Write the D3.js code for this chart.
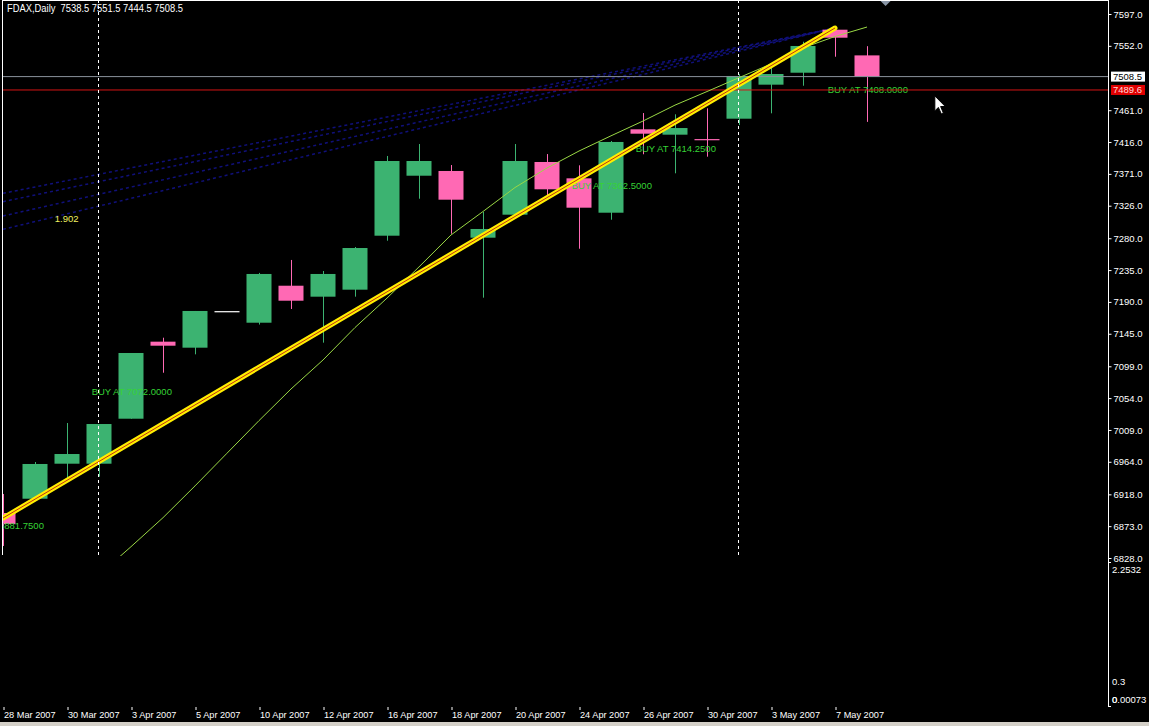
<!DOCTYPE html>
<html>
<head>
<meta charset="utf-8">
<script src="https://cdn.jsdelivr.net/npm/d3@7"></script>
<style>
html, body { margin: 0; padding: 0; background: #000; overflow: hidden; }
svg { display: block; }
text { font-family: "Liberation Sans", Arial, sans-serif; }
</style>
</head>
<body>
<div id="chart"></div>
<script>
// ---------- data ----------
const symbol = "FDAX,Daily";
const dates = ["2007-03-28","2007-03-29","2007-03-30","2007-04-02","2007-04-03","2007-04-04","2007-04-05",
  "2007-04-06","2007-04-10","2007-04-11","2007-04-12","2007-04-13","2007-04-16","2007-04-17","2007-04-18",
  "2007-04-19","2007-04-20","2007-04-23","2007-04-24","2007-04-25","2007-04-26","2007-04-27","2007-04-30",
  "2007-05-02","2007-05-03","2007-05-04","2007-05-07","2007-05-08"];
const opens  = [6891.6,6911.8,6961.3,6961.3,7024.9,7133.8,7125.3,7177.0,7160.6,7212.9,7197.4,7207.3,7283.6,7368.4,
  7375.1,7280.8,7313.3,7387.8,7364.7,7316.1,7434.0,7426.4,7420.2,7449.0,7497.1,7514.0,7574.8,7538.5];
const highs  = [6918.5,6963.7,7018.8,7017.4,7117.8,7139.4,7177.2,7177.0,7231.0,7249.3,7233.7,7267.6,7396.3,7413.2,
  7383.5,7317.1,7413.2,7399.0,7383.1,7417.5,7457.0,7455.2,7463.7,7512.0,7520.7,7557.8,7577.2,7551.5];
const lows   = [6845.0,6910.0,6935.9,6943.0,7024.9,7089.9,7115.9,7177.0,7158.0,7180.0,7132.4,7197.4,7276.5,7335.9,
  7286.4,7196.0,7313.0,7339.7,7265.2,7306.2,7398.7,7371.8,7395.3,7440.0,7456.6,7495.6,7536.6,7444.5];
const closes = [6876.0,6960.9,6975.0,7017.4,7117.8,7128.1,7177.2,7177.0,7229.5,7191.7,7229.5,7266.2,7389.2,7389.2,
  7334.5,7293.1,7389.2,7349.2,7323.2,7416.1,7427.8,7435.8,7419.6,7509.4,7512.2,7551.8,7563.5,7508.5];

// moving average, first value belongs to bar index 3
const maStart = 3;
const maValues = [6804,6844,6885,6929.9,6976.1,7022.2,7066.9,7107.9,7153.8,7195.4,7239.5,7284.6,7317.8,7351.7,
  7379.3,7403.3,7424.8,7445.7,7468.2,7487.4,7507,7526.3,7549.1,7565.2,7578.6];

// yellow trend line [bar index, price]
const trendFrom = [0, 6884.5];
const trendTo   = [26, 7577.2];

// navy fan lines, all meeting at fanTo
const fanStarts = [7343.5, 7331.7, 7311.5, 7292.6];
const fanTo     = [26, 7577.2];
const fanLabel  = { text: "1.902", i: 1.62, p: 7307.2 };

// text objects: text, bar index, price
const buyTexts = ["BUY AT 6881.7500","BUY AT 7072.0000","BUY AT 7362.5000","BUY AT 7414.2500","BUY AT 7408.0000"];
const buyIdx   = [-1.23, 2.77, 17.77, 19.77, 25.77];
const buyPrice = [6873.7, 7063.1, 7354.3, 7407.2, 7490.6];

const vlineIdx   = [3, 23];       // dashed vertical lines
const bidLevel   = closes[closes.length - 1];
const alertLevel = 7489.6;
const priceTicks = [7597,7552,7461,7416,7371,7326,7280,7235,7190,7145,7099,7054,7009,6964,6918,6873,6828];
const dateTickIdx = d3.range(0, 28, 2);

const subMax = 2.2532, subLevel = 0.3, subMin = 0.00073;

// ---------- layout ----------
const W = 1149, H = 726;
const plotL = 3, plotR = 1108, mainT = 0, mainB = 556, subB = 706;
const barStep = 32;

const x = d3.scaleLinear().domain([0, (plotR - plotL) / barStep]).range([plotL, plotR]);
const y = d3.scaleLinear().domain([6828, 7597]).range([558, 14]);
const ySub = d3.scaleLinear().domain([0, subMax]).range([700, 562]);

const GREEN = "#3cb371", PINK = "#ff69b4", TXT = "#36d236";

const svg = d3.select("#chart").append("svg").attr("width", W).attr("height", H);
svg.append("rect").attr("width", W).attr("height", H).attr("fill", "#000");

svg.append("clipPath").attr("id", "clipMain")
  .append("rect").attr("x", plotL).attr("y", mainT).attr("width", plotR - plotL).attr("height", mainB - mainT);

const main = svg.append("g").attr("clip-path", "url(#clipMain)");

// fan lines
const fanLayer = main.append("g");
fanStarts.forEach(p => {
  fanLayer.append("line")
    .attr("x1", x(0)).attr("y1", y(p))
    .attr("x2", x(fanTo[0])).attr("y2", y(fanTo[1]))
    .attr("stroke", "#10107a").attr("stroke-width", 1.5).attr("stroke-dasharray", "3,3");
});
main.append("text").attr("x", x(fanLabel.i)).attr("y", y(fanLabel.p)).attr("dy", "0.35em")
  .attr("fill", "#f0f060").attr("font-size", "9.5px").text(fanLabel.text);

// candles
const bars = d3.range(dates.length).map(i => ({ i, o: opens[i], h: highs[i], l: lows[i], c: closes[i] }));
const col = d => d.c > d.o ? GREEN : d.c < d.o ? PINK : "#ffffff";
const bw = 25;

main.append("g").selectAll("line").data(bars).join("line")
  .attr("x1", d => Math.round(x(d.i)) + 0.5).attr("x2", d => Math.round(x(d.i)) + 0.5)
  .attr("y1", d => y(d.h)).attr("y2", d => y(d.l))
  .attr("stroke", col).attr("stroke-width", 1);

main.append("g").selectAll("rect").data(bars).join("rect")
  .attr("x", d => x(d.i) - bw / 2)
  .attr("width", bw)
  .attr("y", d => y(Math.max(d.o, d.c)))
  .attr("height", d => Math.max(1.2, Math.abs(y(d.o) - y(d.c))))
  .attr("fill", col);

// text objects
main.append("g").selectAll("text").data(buyTexts).join("text")
  .attr("x", (t, k) => x(buyIdx[k])).attr("y", (t, k) => y(buyPrice[k])).attr("dy", "0.35em")
  .attr("fill", TXT).attr("font-size", "9.5px").text(t => t);

// horizontal levels
main.append("line").attr("x1", plotL).attr("x2", plotR).attr("y1", y(bidLevel)).attr("y2", y(bidLevel))
  .attr("stroke", "#8a929c").attr("stroke-width", 1);
main.append("line").attr("x1", plotL).attr("x2", plotR).attr("y1", y(alertLevel)).attr("y2", y(alertLevel))
  .attr("stroke", "#d41414").attr("stroke-width", 1);

// moving average
const maLine = d3.line().x((v, k) => x(maStart + k)).y(v => y(v));
main.append("path").attr("d", maLine(maValues)).attr("fill", "none")
  .attr("stroke", "#9ad845").attr("stroke-width", 1);

// yellow trend line with red core
main.append("line").attr("x1", x(trendFrom[0])).attr("y1", y(trendFrom[1]))
  .attr("x2", x(trendTo[0])).attr("y2", y(trendTo[1]))
  .attr("stroke", "#ffee00").attr("stroke-width", 5).attr("stroke-linecap", "round");
main.append("line").attr("x1", x(trendFrom[0])).attr("y1", y(trendFrom[1]))
  .attr("x2", x(trendTo[0])).attr("y2", y(trendTo[1]))
  .attr("stroke", "#c03010").attr("stroke-width", 1);

// dashed verticals
main.append("g").selectAll("line").data(vlineIdx).join("line")
  .attr("x1", d => Math.round(x(d)) - 0.5).attr("x2", d => Math.round(x(d)) - 0.5)
  .attr("y1", mainT).attr("y2", mainB - 1)
  .attr("stroke", "#fff").attr("stroke-width", 1).attr("stroke-dasharray", "3,3");

// frame
svg.append("line").attr("x1", plotL - 0.5).attr("x2", plotL - 0.5).attr("y1", 0).attr("y2", mainB - 1)
  .attr("stroke", "#fff");
svg.append("line").attr("x1", plotL).attr("x2", plotR).attr("y1", 0.5).attr("y2", 0.5).attr("stroke", "#fff");
svg.append("line").attr("x1", plotR + 0.5).attr("x2", plotR + 0.5).attr("y1", 0).attr("y2", subB)
  .attr("stroke", "#fff");

// chart shift marker
const sx = x(27.58);
svg.append("path").attr("d", `M${sx - 5},1 L${sx + 5},1 L${sx},6 Z`).attr("fill", "#8a96a6");

// header
const f1 = d3.format(".1f");
const last = bars[bars.length - 1];
svg.append("text").attr("x", 7).attr("y", 12).attr("fill", "#fff").attr("font-size", "10.5px")
  .attr("xml:space", "preserve").attr("textLength", 176).attr("lengthAdjust", "spacingAndGlyphs")
  .text(`${symbol}  ${f1(last.o)} ${f1(last.h)} ${f1(last.l)} ${f1(last.c)}`);

// price axis
const yAxis = svg.append("g").attr("transform", `translate(${plotR + 0.5},0)`)
  .call(d3.axisRight(y).tickValues(priceTicks).tickFormat(f1).tickSize(3).tickPadding(2));
yAxis.select(".domain").remove();
yAxis.selectAll("line").attr("stroke", "#fff");
yAxis.selectAll("text").attr("fill", "#fff").attr("font-size", "9.5px")
  .attr("font-family", "Liberation Sans, Arial, sans-serif");

// price boxes
function priceBox(v, bg, fg) {
  const g = svg.append("g").attr("transform", `translate(${plotR + 3},${y(v)})`);
  g.append("rect").attr("x", 0).attr("y", -5).attr("width", 34).attr("height", 10).attr("fill", bg);
  g.append("text").attr("x", 2).attr("dy", "0.35em").attr("fill", fg).attr("font-size", "9.5px").text(f1(v));
}
priceBox(bidLevel, "#ffffff", "#000");
priceBox(alertLevel, "#e00000", "#ffd8d8");

// sub window scale labels
const subG = svg.append("g").attr("fill", "#fff").attr("font-size", "9.5px");
subG.append("text").attr("x", plotR + 4).attr("y", ySub(subMax) + 8).attr("dy", "0.35em").text(d3.format(".4f")(subMax));
subG.append("text").attr("x", plotR + 4).attr("y", ySub(subLevel)).attr("dy", "0.35em").text(subLevel);
subG.append("text").attr("x", plotR + 4).attr("y", ySub(subMin)).attr("dy", "0.35em").text(subMin);
subG.append("text").attr("x", plotR + 4).attr("y", ySub(0)).attr("dy", "0.35em").text("0");
[ySub(subMax), subB].forEach(v => {
  svg.append("line").attr("x1", plotR).attr("x2", plotR + 3).attr("y1", v + 0.5).attr("y2", v + 0.5).attr("stroke", "#fff");
});

// time axis
const parse = d3.timeParse("%Y-%m-%d");
const fmtDate = d3.timeFormat("%-d %b %Y");
const xAxis = svg.append("g").attr("transform", `translate(0.5,${subB + 1})`)
  .call(d3.axisBottom(x).tickValues(dateTickIdx).tickFormat(i => fmtDate(parse(dates[i]))).tickSize(3).tickPadding(1));
xAxis.select(".domain").remove();
xAxis.selectAll("line").attr("stroke", "#fff");
xAxis.selectAll("text").attr("fill", "#fff").attr("font-size", "9.2px").attr("text-anchor", "start").attr("dx", "0")
  .attr("font-family", "Liberation Sans, Arial, sans-serif");

// mouse pointer
const cx = x(29.12), cy = y(7481.2);
svg.append("path").attr("transform", `translate(${cx},${cy})`)
  .attr("d", "M0,0 L0,15 L3.5,11.5 L6.5,18 L8.5,17 L5.8,10.6 L10.5,10.6 Z")
  .attr("fill", "#fff").attr("stroke", "#000").attr("stroke-width", 1);

// bottom window edge
svg.append("rect").attr("x", 0).attr("y", 722).attr("width", W).attr("height", 4).attr("fill", "#d4d0c8");
</script>
</body>
</html>
